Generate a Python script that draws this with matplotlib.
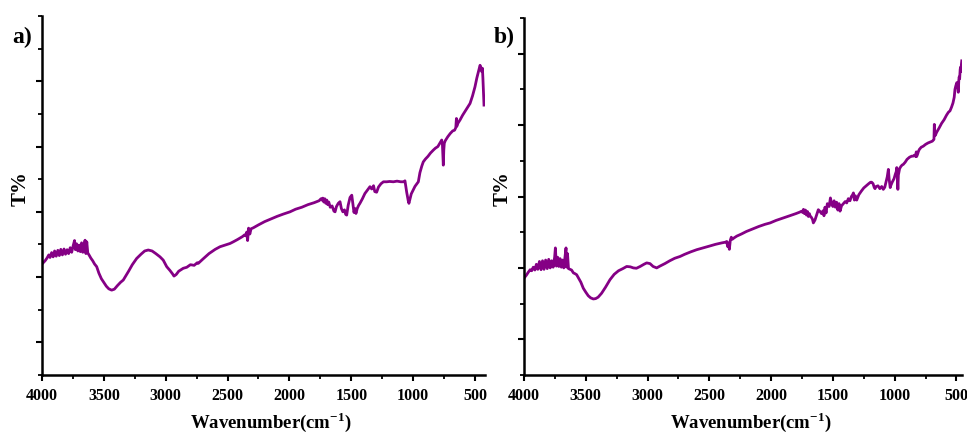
import matplotlib
matplotlib.use("Agg")
import matplotlib.pyplot as plt
from matplotlib.ticker import MultipleLocator

plt.rcParams["font.family"] = ["Liberation Serif", "DejaVu Serif"]
plt.rcParams["font.weight"] = "bold"
plt.rcParams["mathtext.fontset"] = "custom"
plt.rcParams["mathtext.rm"] = "Liberation Serif:bold"
plt.rcParams["mathtext.bf"] = "Liberation Serif:bold"

# FTIR spectrum a): (wavenumber cm-1, transmittance in arbitrary units)
spectrum_a = [
    (3995, 3.42), (3975, 3.50), (3960, 3.58), (3945, 3.68), (3935, 3.60), (3922, 3.75),
    (3910, 3.62), (3898, 3.80), (3885, 3.64), (3872, 3.82), (3860, 3.66), (3848, 3.85),
    (3835, 3.68), (3822, 3.86), (3810, 3.70), (3797, 3.84), (3785, 3.72), (3772, 3.90),
    (3760, 3.76), (3748, 3.96), (3737, 4.12), (3730, 3.84), (3720, 4.02), (3710, 3.80),
    (3700, 3.98), (3690, 3.78), (3680, 4.05), (3670, 3.76), (3660, 3.98), (3652, 4.13),
    (3645, 3.72), (3638, 4.08), (3630, 3.74), (3620, 3.68), (3605, 3.58), (3590, 3.50),
    (3575, 3.40), (3558, 3.32), (3540, 3.12), (3520, 2.95), (3504, 2.86), (3480, 2.72),
    (3460, 2.64), (3437, 2.60), (3415, 2.63), (3390, 2.74), (3365, 2.84), (3343, 2.91),
    (3300, 3.18), (3270, 3.38), (3235, 3.57), (3200, 3.70), (3170, 3.80), (3141, 3.83),
    (3110, 3.80), (3080, 3.72), (3046, 3.62), (3020, 3.52), (2992, 3.32), (2965, 3.20),
    (2945, 3.10), (2933, 3.03), (2915, 3.08), (2895, 3.18), (2858, 3.27), (2830, 3.30),
    (2800, 3.38), (2770, 3.36), (2745, 3.44), (2737, 3.42), (2700, 3.55), (2650, 3.72),
    (2600, 3.85), (2561, 3.93), (2520, 3.98), (2480, 4.03), (2454, 4.08), (2420, 4.15),
    (2380, 4.24), (2360, 4.30), (2350, 4.26), (2345, 4.38), (2338, 4.12), (2330, 4.50),
    (2320, 4.32), (2310, 4.48), (2292, 4.51), (2250, 4.60), (2200, 4.70), (2150, 4.78),
    (2100, 4.86), (2050, 4.93), (1995, 5.00), (1950, 5.08), (1900, 5.14), (1850, 5.22),
    (1800, 5.28), (1760, 5.34), (1745, 5.40), (1739, 5.36), (1730, 5.42), (1722, 5.30),
    (1714, 5.40), (1706, 5.26), (1698, 5.36), (1690, 5.22), (1682, 5.30), (1670, 5.14),
    (1655, 5.18), (1640, 5.02), (1631, 5.00), (1620, 5.16), (1605, 5.26), (1591, 5.31),
    (1580, 5.10), (1568, 5.00), (1555, 5.06), (1545, 4.92), (1537, 4.90), (1525, 5.20),
    (1510, 5.44), (1496, 5.51), (1488, 5.28), (1478, 4.98), (1470, 5.10), (1462, 4.95),
    (1452, 5.10), (1440, 5.20), (1430, 5.26), (1410, 5.40), (1390, 5.56), (1370, 5.66),
    (1349, 5.77), (1335, 5.70), (1320, 5.80), (1310, 5.62), (1295, 5.60), (1280, 5.76),
    (1260, 5.86), (1240, 5.92), (1214, 5.92), (1190, 5.93), (1160, 5.92), (1130, 5.94),
    (1100, 5.92), (1075, 5.92), (1066, 5.95), (1060, 5.80), (1052, 5.60), (1045, 5.45),
    (1040, 5.35), (1034, 5.26), (1025, 5.40), (1015, 5.55), (999, 5.67), (985, 5.78),
    (970, 5.86), (958, 5.92), (945, 6.20), (930, 6.40), (918, 6.53), (900, 6.62),
    (880, 6.70), (860, 6.80), (837, 6.89), (820, 6.95), (800, 7.00), (785, 7.10),
    (772, 7.18), (769, 7.20), (763, 7.05), (758, 6.60), (756, 6.43), (752, 6.90),
    (748, 7.10), (740, 7.18), (720, 7.30), (700, 7.40), (680, 7.48), (665, 7.50),
    (655, 7.58), (650, 7.86), (647, 7.62), (640, 7.70), (620, 7.82), (600, 7.96),
    (580, 8.08), (560, 8.20), (540, 8.32), (520, 8.55), (500, 8.83), (485, 9.10),
    (472, 9.30), (465, 9.40), (459, 9.49), (452, 9.42), (446, 9.30), (440, 9.40),
    (436, 9.10), (432, 8.70), (427, 8.27),
]

# FTIR spectrum b)
spectrum_b = [
    (3998, 2.72), (3980, 2.80), (3965, 2.88), (3950, 2.95), (3938, 2.92), (3925, 3.02),
    (3912, 2.94), (3900, 3.10), (3888, 2.96), (3875, 3.18), (3862, 2.95), (3850, 3.20),
    (3838, 2.96), (3825, 3.22), (3812, 2.98), (3800, 3.24), (3788, 3.00), (3776, 3.20),
    (3764, 3.02), (3752, 3.30), (3746, 3.56), (3738, 3.05), (3728, 3.30), (3718, 3.04),
    (3708, 3.26), (3698, 3.02), (3688, 3.22), (3678, 3.00), (3668, 3.30), (3660, 3.56),
    (3655, 3.02), (3648, 3.40), (3640, 2.98), (3628, 2.96), (3615, 2.94), (3600, 2.86),
    (3588, 2.84), (3574, 2.81), (3556, 2.70), (3540, 2.60), (3520, 2.43), (3500, 2.32),
    (3480, 2.22), (3460, 2.16), (3439, 2.13), (3420, 2.14), (3400, 2.18), (3372, 2.29),
    (3340, 2.46), (3304, 2.67), (3270, 2.82), (3235, 2.92), (3200, 2.98), (3169, 3.04),
    (3140, 3.03), (3115, 3.00), (3090, 2.99), (3060, 3.04), (3030, 3.10), (3007, 3.14),
    (2980, 3.12), (2955, 3.04), (2926, 3.00), (2900, 3.05), (2860, 3.12), (2820, 3.20),
    (2780, 3.27), (2737, 3.32), (2700, 3.38), (2650, 3.45), (2602, 3.51), (2550, 3.56),
    (2500, 3.61), (2450, 3.66), (2400, 3.70), (2370, 3.72), (2359, 3.74), (2352, 3.60),
    (2345, 3.70), (2338, 3.52), (2330, 3.78), (2322, 3.86), (2315, 3.80), (2300, 3.84),
    (2278, 3.89), (2240, 3.95), (2200, 4.02), (2150, 4.09), (2100, 4.16), (2050, 4.22),
    (2008, 4.26), (1960, 4.33), (1900, 4.40), (1850, 4.46), (1800, 4.52), (1770, 4.56),
    (1752, 4.59), (1745, 4.55), (1738, 4.64), (1730, 4.52), (1722, 4.62), (1714, 4.48),
    (1706, 4.58), (1698, 4.44), (1690, 4.52), (1685, 4.46), (1675, 4.42), (1665, 4.36),
    (1658, 4.26), (1645, 4.34), (1630, 4.50), (1618, 4.63), (1604, 4.58), (1592, 4.52),
    (1580, 4.60), (1572, 4.46), (1564, 4.70), (1555, 4.54), (1545, 4.80), (1530, 4.72),
    (1520, 4.96), (1510, 4.80), (1500, 4.72), (1490, 4.88), (1480, 4.70), (1470, 4.84),
    (1460, 4.62), (1450, 4.80), (1442, 4.59), (1430, 4.74), (1415, 4.80), (1400, 4.86),
    (1388, 4.82), (1375, 4.94), (1362, 4.88), (1350, 5.00), (1340, 5.05), (1334, 5.10),
    (1326, 4.90), (1318, 5.02), (1307, 4.90), (1290, 5.05), (1270, 5.15), (1250, 5.24),
    (1230, 5.30), (1210, 5.36), (1195, 5.40), (1186, 5.40), (1175, 5.36), (1165, 5.25),
    (1159, 5.22), (1150, 5.28), (1135, 5.30), (1120, 5.22), (1105, 5.28), (1092, 5.20),
    (1080, 5.26), (1070, 5.40), (1060, 5.55), (1051, 5.76), (1045, 5.50), (1040, 5.36),
    (1036, 5.25), (1032, 5.30), (1020, 5.40), (1005, 5.50), (995, 5.62), (987, 5.70),
    (983, 5.81), (978, 5.55), (974, 5.20), (970, 5.60), (960, 5.78), (950, 5.84),
    (940, 5.88), (930, 5.90), (915, 5.96), (900, 6.04), (880, 6.10), (862, 6.13),
    (850, 6.13), (840, 6.16), (830, 6.12), (825, 6.25), (822, 6.12), (815, 6.18),
    (808, 6.26), (800, 6.32), (785, 6.38), (768, 6.41), (750, 6.46), (730, 6.50),
    (710, 6.53), (695, 6.55), (687, 6.58), (682, 6.60), (679, 7.02), (675, 6.70),
    (670, 6.72), (660, 6.80), (640, 6.92), (620, 7.05), (600, 7.15), (580, 7.28),
    (565, 7.36), (552, 7.40), (540, 7.50), (528, 7.62), (518, 7.78), (512, 8.00),
    (505, 8.10), (497, 8.19), (490, 8.10), (485, 7.92), (481, 8.25), (478, 8.35),
    (474, 8.30), (470, 8.55), (467, 8.62), (463, 8.50), (460, 8.70), (457, 8.80),
]

x_ticks = [4000, 3500, 3000, 2500, 2000, 1500, 1000, 500]
panel_tags = ["a)", "b)"]
line_color = "#850085"

fig = plt.figure(figsize=(9.67, 4.33), dpi=100)
ax_a = fig.add_axes([42 / 967, 58 / 433, 443 / 967, 359 / 433])
ax_b = fig.add_axes([524 / 967, 58 / 433, 438 / 967, 357 / 433])

# (axes, data, right x-limit, top y-limit, T% label x in px, tag x in px)
panels = [(ax_a, spectrum_a, 419, 11, 21, 12), (ax_b, spectrum_b, 455, 10, 503, 494)]
for (ax, spectrum, xmin, ytop, ylab_x, tag_x), tag in zip(panels, panel_tags):
    wn, t = zip(*spectrum)
    ax.plot(wn, t, color=line_color, lw=2.0)
    ax.set_xlim(4000, xmin)
    ax.set_ylim(0, ytop)
    ax.set_xticks(x_ticks)
    ax.set_xticklabels([str(v) for v in x_ticks])
    ax.xaxis.set_minor_locator(MultipleLocator(250))
    ax.set_yticks([1, 3, 5, 7, 9])
    ax.yaxis.set_minor_locator(MultipleLocator(1))
    ax.set_yticklabels([])
    for side in ("top", "right"):
        ax.spines[side].set_visible(False)
    for side in ("left", "bottom"):
        ax.spines[side].set_linewidth(1.8)
    ax.tick_params(which="major", direction="out", length=4.5, width=1.5,
                   labelsize=11.5, pad=5)
    ax.tick_params(which="minor", direction="out", length=3, width=1.3)
    for lab in ax.get_xticklabels():
        lab.set_fontweight("bold")
    ax.set_xlabel("Wavenumber(cm$^{\\mathbf{-1}}$)", fontsize=13.5,
                  fontweight="bold")
    ax.xaxis.set_label_coords(0.517, -0.097)
    fig.text(ylab_x / 967, 1 - 189 / 433, "T%", rotation=90, fontsize=15,
             fontweight="bold", ha="center", va="center")
    fig.text(tag_x / 967, 1 - 43 / 433, tag, fontsize=17, fontweight="bold",
             ha="left", va="baseline")

fig.savefig("out.png", dpi=100)
